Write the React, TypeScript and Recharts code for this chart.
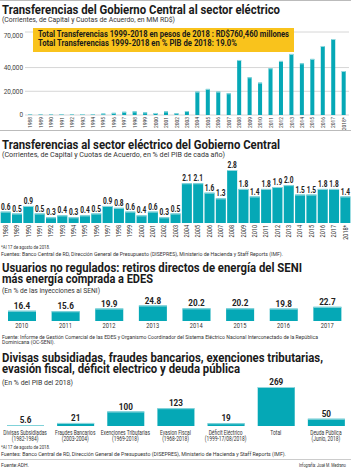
import React from 'react';
import { BarChart, Bar, XAxis, YAxis, CartesianGrid, LabelList } from 'recharts';

// Chart 1 + 2: transfers to the electric sector
const years = [
  '1988', '1989', '1990', '1991', '1992', '1993', '1994', '1995', '1996', '1997',
  '1998', '1999', '2000', '2001', '2002', '2003', '2004', '2005', '2006', '2007',
  '2008', '2009', '2010', '2011', '2012', '2013', '2014', '2015', '2016', '2017', '2018*',
];
const transfersMM = [
  500, 500, 700, 700, 600, 800, 700, 1200, 1800, 2700,
  3000, 2200, 1700, 3000, 1500, 3300, 19700, 22000, 19700, 18300,
  46400, 31800, 27300, 39400, 45600, 51500, 43600, 47300, 58200, 64100, 37100,
];
const transfersPct = [
  0.6, 0.5, 0.9, 0.5, 0.3, 0.4, 0.3, 0.4, 0.5, 0.9,
  0.8, 0.6, 0.4, 0.6, 0.3, 0.5, 2.1, 2.1, 1.6, 1.3,
  2.8, 1.8, 1.4, 1.8, 1.9, 2.0, 1.5, 1.5, 1.8, 1.8, 1.4,
];
const mmTicks = [0, 10000, 20000, 30000, 40000, 50000, 60000, 70000];

// Chart 3: unregulated users
const seniYears = ['2010', '2011', '2012', '2013', '2014', '2015', '2016', '2017'];
const seniPct = [16.4, 15.6, 19.9, 24.8, 20.2, 20.2, 19.8, 22.7];

// Chart 4: costs in % of GDP
const costNames = [
  'Divisas Subsidiadas', 'Fraudes Bancarios', 'Exenciones Tributarias', 'Evasion Fiscal',
  'Déficit Eléctrico', 'Total', 'Deuda Pública',
];
const costPeriods = [
  '(1982-1984)', '(2003-2004)', '(1969-2018)', '(1968-2018)', '(1999-17/08/2018)', '', '(Junio, 2018)',
];
const costPct = [5.6, 21, 100, 123, 19, 269, 50];

const TEAL = '#05a8b6';
const TEAL_TOP = '#93d8de';
const FONT = 'Roboto, "Noto Sans", sans-serif';

const data1 = years.map((y, i) => ({ year: y, mm: transfersMM[i], pct: transfersPct[i] }));
const data3 = seniYears.map((y, i) => ({ year: y, pct: seniPct[i] }));
const data4 = costNames.map((n, i) => ({ name: n, period: costPeriods[i], pct: costPct[i] }));

const TealBar = (p: any) => {
  const { x, y, width, height } = p;
  if (!height || height <= 0) return null;
  return (
    <g>
      <rect x={x} y={y} width={width} height={height} fill={TEAL} />
      <rect x={x} y={y} width={width} height={Math.min(1, height)} fill={TEAL_TOP} />
    </g>
  );
};

const VertTick = ({ x, y, payload, size }: any) => (
  <g transform={`translate(${x},${y + 2}) rotate(-90) scale(0.85,1)`}>
    <text x={0} y={0} dy="0.35em" textAnchor="end" fontSize={size} fill="#333" fontFamily={FONT}>
      {payload.value}
    </text>
  </g>
);

const YTick = ({ x, y, payload }: any) => (
  <g transform={`translate(${x},${y}) scale(0.92,1)`}>
    <text x={0} y={0} dy="0.35em" textAnchor="end" fontSize={7} fill="#444" fontFamily={FONT}>
      {payload.value.toLocaleString('en-US')}
    </text>
  </g>
);

const YearTick = ({ x, y, payload }: any) => (
  <g transform={`translate(${x},${y + 7}) scale(0.82,1)`}>
    <text x={0} y={0} textAnchor="middle" fontSize={7} fill="#333" fontFamily={FONT}>
      {payload.value}
    </text>
  </g>
);

const CostTick = ({ x, y, payload, index }: any) => (
  <g transform={`translate(${x},${y + 8.5}) scale(0.7,1)`}>
    <text x={0} y={0} textAnchor="middle" fontSize={7} fill="#333" fontFamily={FONT}>
      {payload.value}
    </text>
    <text x={0} y={7} textAnchor="middle" fontSize={7} fill="#333" fontFamily={FONT}>
      {costPeriods[index]}
    </text>
  </g>
);

const makeLabel = (size: number, sx: number, digits?: number) => (props: any) => {
  const { x, y, width, value } = props;
  const txt = digits === undefined ? String(value) : Number(value).toFixed(digits);
  return (
    <g transform={`translate(${x + width / 2},${y - 2}) scale(${sx},1)`}>
      <text x={0} y={0} textAnchor="middle" fontSize={size} fontWeight={700} fill="#222" fontFamily={FONT}>
        {txt}
      </text>
    </g>
  );
};

const T = ({ x, y, w, size, weight = 400, fill = '#222', children }: any) => (
  <text
    x={x}
    y={y}
    fontSize={size}
    fontWeight={weight}
    fill={fill}
    textLength={w}
    lengthAdjust="spacingAndGlyphs"
    fontFamily={FONT}
  >
    {children}
  </text>
);

export default function App() {
  return (
    <div style={{ position: 'relative', width: 351, height: 470, background: '#fff', fontFamily: FONT }}>
      <style>{'body{margin:0}'}</style>

      {/* Chart 1: MM RD$ */}
      <div style={{ position: 'absolute', left: 0, top: 27 }}>
        <BarChart width={351} height={103} data={data1} margin={{ top: 5, right: 2, left: 0, bottom: 0 }} barCategoryGap="30%">
          <CartesianGrid vertical={false} stroke="#d6d6d6" />
          <YAxis width={25} domain={[0, 70000]} ticks={mmTicks} axisLine={false} tickLine={false} tickSize={0} tickMargin={2} tick={<YTick />} />
          <XAxis dataKey="year" interval={0} height={15} axisLine={false} tickLine={false} tickSize={0} tickMargin={0} tick={<VertTick size={5.8} />} />
          <Bar dataKey="mm" shape={TealBar} isAnimationActive={false} />
        </BarChart>
      </div>

      {/* Chart 2: % PIB */}
      <div style={{ position: 'absolute', left: 0, top: 158 }}>
        <BarChart width={351} height={83} data={data1} margin={{ top: 12, right: 0, left: 0, bottom: 0 }} barCategoryGap={0.7}>
          <YAxis hide domain={[0, 2.8]} />
          <XAxis dataKey="year" interval={0} height={18} axisLine={false} tickLine={false} tickSize={0} tickMargin={0} tick={<VertTick size={6.5} />} />
          <Bar dataKey="pct" shape={TealBar} isAnimationActive={false}>
            <LabelList dataKey="pct" content={makeLabel(8.2, 0.8, 1)} />
          </Bar>
        </BarChart>
      </div>

      {/* Chart 3: SENI */}
      <div style={{ position: 'absolute', left: 0, top: 289 }}>
        <BarChart width={351} height={44} data={data3} margin={{ top: 12, right: 2, left: 0, bottom: 0 }} barSize={28}>
          <YAxis hide domain={[0, 32]} />
          <XAxis dataKey="year" interval={0} height={12} axisLine={false} tickLine={false} tickSize={0} tickMargin={0} tick={<YearTick />} />
          <Bar dataKey="pct" shape={TealBar} isAnimationActive={false}>
            <LabelList dataKey="pct" content={makeLabel(9.5, 0.86, 1)} />
          </Bar>
        </BarChart>
      </div>

      {/* Chart 4: costs */}
      <div style={{ position: 'absolute', left: 0, top: 377 }}>
        <BarChart width={351} height={68} data={data4} margin={{ top: 10, right: 0, left: 0, bottom: 0 }} barSize={37}>
          <YAxis hide domain={[0, 269]} />
          <XAxis dataKey="name" interval={0} height={19} axisLine={false} tickLine={false} tickSize={0} tickMargin={0} tick={<CostTick />} />
          <Bar dataKey="pct" shape={TealBar} isAnimationActive={false}>
            <LabelList dataKey="pct" content={makeLabel(9.5, 0.86)} />
          </Bar>
        </BarChart>
      </div>

      {/* Titles, notes and box */}
      <svg width={351} height={470} style={{ position: 'absolute', left: 0, top: 0, pointerEvents: 'none' }}>
        <line x1={0} x2={351} y1={0.5} y2={0.5} stroke="#bbb" />
        <T x={2} y={13.5} w={278} size={12.5} weight={700} fill="#1a1a1a">Transferencias del Gobierno Central al sector eléctrico</T>
        <T x={2} y={22} w={173} size={7.5} fill="#333">(Corrientes, de Capital y Cuotas de Acuerdo, en MM RD$)</T>

        <rect x={33} y={28} width={261} height={24} fill="#f9c31c" />
        <T x={38} y={37} w={251} size={8.5} weight={700} fill="#1a1a1a">Total Transferencias 1999-2018 en pesos de 2018 : RD$760,460 millones</T>
        <T x={38} y={46} w={199} size={8.5} weight={700} fill="#1a1a1a">Total Transferencias 1999-2018 en % PIB de 2018:  19.0%</T>

        <line x1={0} x2={351} y1={130.5} y2={130.5} stroke="#bbb" />
        <T x={2} y={148.5} w={278} size={12.5} weight={700} fill="#1a1a1a">Transferencias al sector eléctrico  del Gobierno Central</T>
        <T x={2} y={157} w={223} size={7.5} fill="#333">(Corrientes, de Capital y Cuotas de Acuerdo, en % del PIB de cada año)</T>

        <T x={1} y={249} w={49} size={6} fill="#333">*Al 17 de agosto de 2018.</T>
        <T x={1} y={255.5} w={282} size={6} fill="#333">Fuentes: Banco Central de RD, Dirección General de Presupuesto (DISEPRES), Ministerio de Hacienda y Staff Reports (IMF).</T>

        <T x={2} y={272} w={300} size={12.5} weight={700} fill="#1a1a1a">Usuarios no regulados: retiros directos de energía del SENI</T>
        <T x={2} y={283} w={151} size={12.5} weight={700} fill="#1a1a1a">más energía comprada a EDES</T>
        <T x={2} y={292.5} w={98} size={7.5} fill="#333">(En % de las inyecciones al SENI)</T>

        <T x={2} y={338.5} w={316} size={6} fill="#333">Fuente:  Informe de Gestión Comercial de las EDES y Organismo Coordinador del Sistema Eléctrico Nacional Interconectado de la República</T>
        <T x={2} y={344} w={53} size={6} fill="#333">Dominicana (OC-SENI).</T>

        <T x={2} y={361.5} w={321} size={12.5} weight={700} fill="#1a1a1a">Divisas subsidiadas, fraudes bancarios, exenciones tributarias,</T>
        <T x={2} y={372.5} w={238} size={12.5} weight={700} fill="#1a1a1a">evasión fiscal, déficit electrico y deuda pública</T>
        <T x={2} y={384.5} w={71} size={7.5} fill="#333">(En % del PIB del 2018)</T>

        <T x={1} y={449} w={49} size={6} fill="#333">*Al 17 de agosto de 2018.</T>
        <T x={1} y={455.5} w={285} size={6} fill="#333">Fuentes: Banco Central de RD, Dirección General de Presupuesto (DISEPRES), Ministerio de Hacienda y Staff Reports (IMF).</T>
        <line x1={0} x2={351} y1={459.5} y2={459.5} stroke="#ccc" />
        <T x={1} y={467} w={28} size={6} fill="#333">Fuente:ADH.</T>
        <T x={299} y={467} w={47} size={6} fill="#333">Infografía: José M. Medrano</T>
      </svg>
    </div>
  );
}
